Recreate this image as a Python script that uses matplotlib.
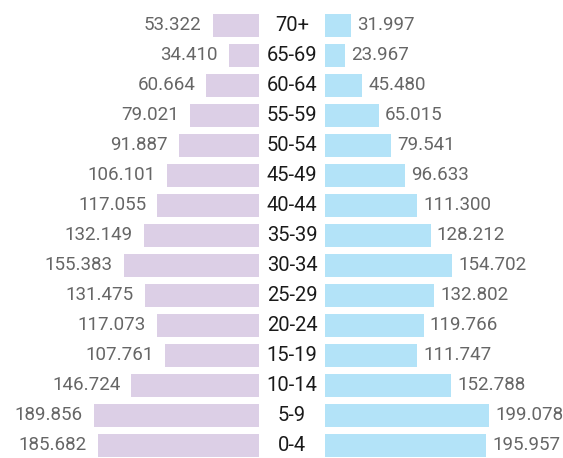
import matplotlib.pyplot as plt
import matplotlib.transforms as mtransforms

ages = ["0-4", "5-9", "10-14", "15-19", "20-24", "25-29", "30-34", "35-39",
        "40-44", "45-49", "50-54", "55-59", "60-64", "65-69", "70+"]
left_vals = [185.682, 189.856, 146.724, 107.761, 117.073, 131.475, 155.383, 132.149,
             117.055, 106.101, 91.887, 79.021, 60.664, 34.410, 53.322]
right_vals = [195.957, 199.078, 152.788, 111.747, 119.766, 132.802, 154.702, 128.212,
              111.300, 96.633, 79.541, 65.015, 45.480, 23.967, 31.997]

left_color = "#dccfe6"
right_color = "#b3e3f8"
W, H = 563, 458

plt.rcParams["font.family"] = ["Roboto", "DejaVu Sans"]

fig = plt.figure(figsize=(W / 100, H / 100), dpi=100)

# each side scaled to its own maximum (~165 px)
ax_l = fig.add_axes([0, 0, 259 / W, 1])
ax_r = fig.add_axes([325 / W, 0, (W - 325) / W, 1])
ax_l.set_xlim(max(left_vals) * 259 / 165, 0)
ax_r.set_xlim(0, max(right_vals) * (W - 325) / 164)

y = list(range(len(ages)))
for ax in (ax_l, ax_r):
    ax.set_ylim(-12.5 / 30, len(ages) - 1 + 25.5 / 30)
    ax.axis("off")

ax_l.barh(y, left_vals, height=0.77, color=left_color)
ax_r.barh(y, right_vals, height=0.77, color=right_color)

fmt = lambda v: f"{v:.3f}"
for yi, v in zip(y, left_vals):
    ax_l.annotate(fmt(v), (v, yi), xytext=(-8, 0), textcoords="offset points",
                  ha="right", va="center", fontsize=13.5, color="#666666")
for yi, v in zip(y, right_vals):
    ax_r.annotate(fmt(v), (v, yi), xytext=(4.5, 0), textcoords="offset points",
                  ha="left", va="center", fontsize=13.5, color="#666666")

trans = mtransforms.blended_transform_factory(fig.transFigure, ax_r.transData)
for yi, a in zip(y, ages):
    ax_r.text(292 / W, yi, a, transform=trans, ha="center", va="center",
              fontsize=14.5, color="#1a1a1a", clip_on=False)

fig.savefig("out.png", dpi=100)
plt.close(fig)
